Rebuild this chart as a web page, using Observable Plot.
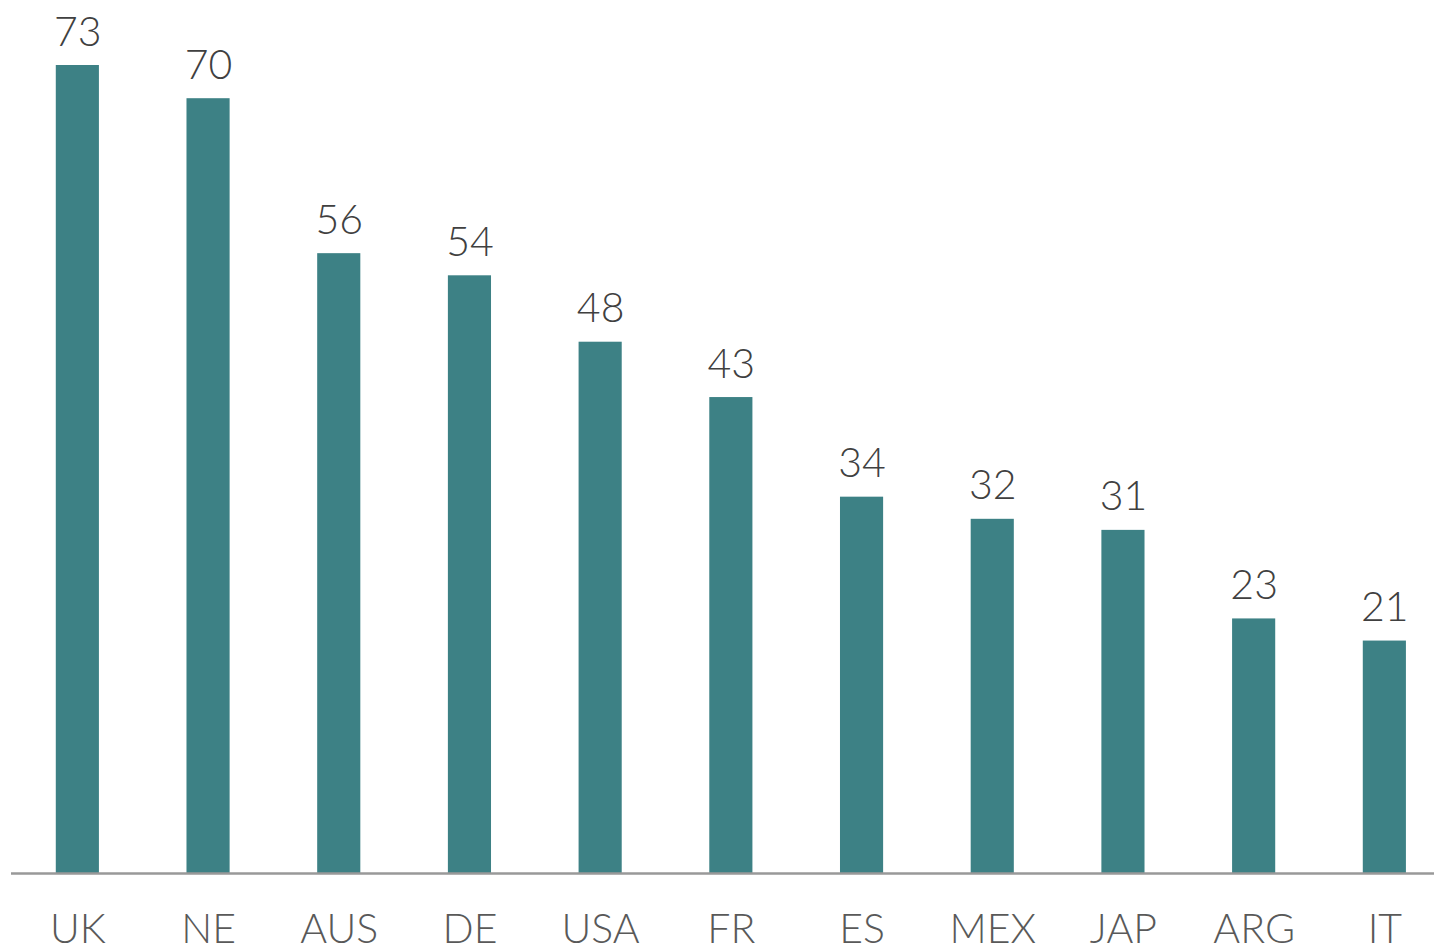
<!DOCTYPE html>
<html>
<head>
<meta charset="utf-8">
<script src="https://cdn.jsdelivr.net/npm/d3@7"></script>
<script src="https://cdn.jsdelivr.net/npm/@observablehq/plot@0.6"></script>
<style>
  html, body { margin: 0; padding: 0; background: #fff; }
  #chart svg { display: block; }
</style>
</head>
<body>
<div id="chart"></div>
<script>
const countries = ["UK", "NE", "AUS", "DE", "USA", "FR", "ES", "MEX", "JAP", "ARG", "IT"];
const values = [73, 70, 56, 54, 48, 43, 34, 32, 31, 23, 21];

const data = countries.map((c, i) => ({country: c, value: values[i]}));

const W = 1434, H = 948;
const step = 130.7;
const chart = Plot.plot({
  width: W,
  height: H,
  marginLeft: 11,
  marginRight: 0,
  marginTop: 65,
  marginBottom: 75,
  style: {fontFamily: "Lato, 'Open Sans', sans-serif", background: "#fff", fontWeight: 300},
  x: {domain: countries, range: [12, 12 + step * countries.length], paddingInner: 0.67, paddingOuter: 0.335, round: false, label: null},
  y: {domain: [0, 73], axis: null},
  marks: [
    Plot.barY(data, {x: "country", y: "value", fill: "#3d8185"}),
    Plot.ruleY([0], {stroke: "#999999", strokeWidth: 2.5}),
    Plot.text(data, {x: "country", y: "value", text: d => String(d.value), lineAnchor: "bottom", dy: -20, fontSize: 41, fontWeight: 300, fill: "#404040"}),
    Plot.axisX({tickSize: 0, tickPadding: 40, fontSize: 41, fontWeight: 300, color: "#595959", label: null})
  ]
});
document.getElementById("chart").appendChild(chart);
</script>
</body>
</html>
